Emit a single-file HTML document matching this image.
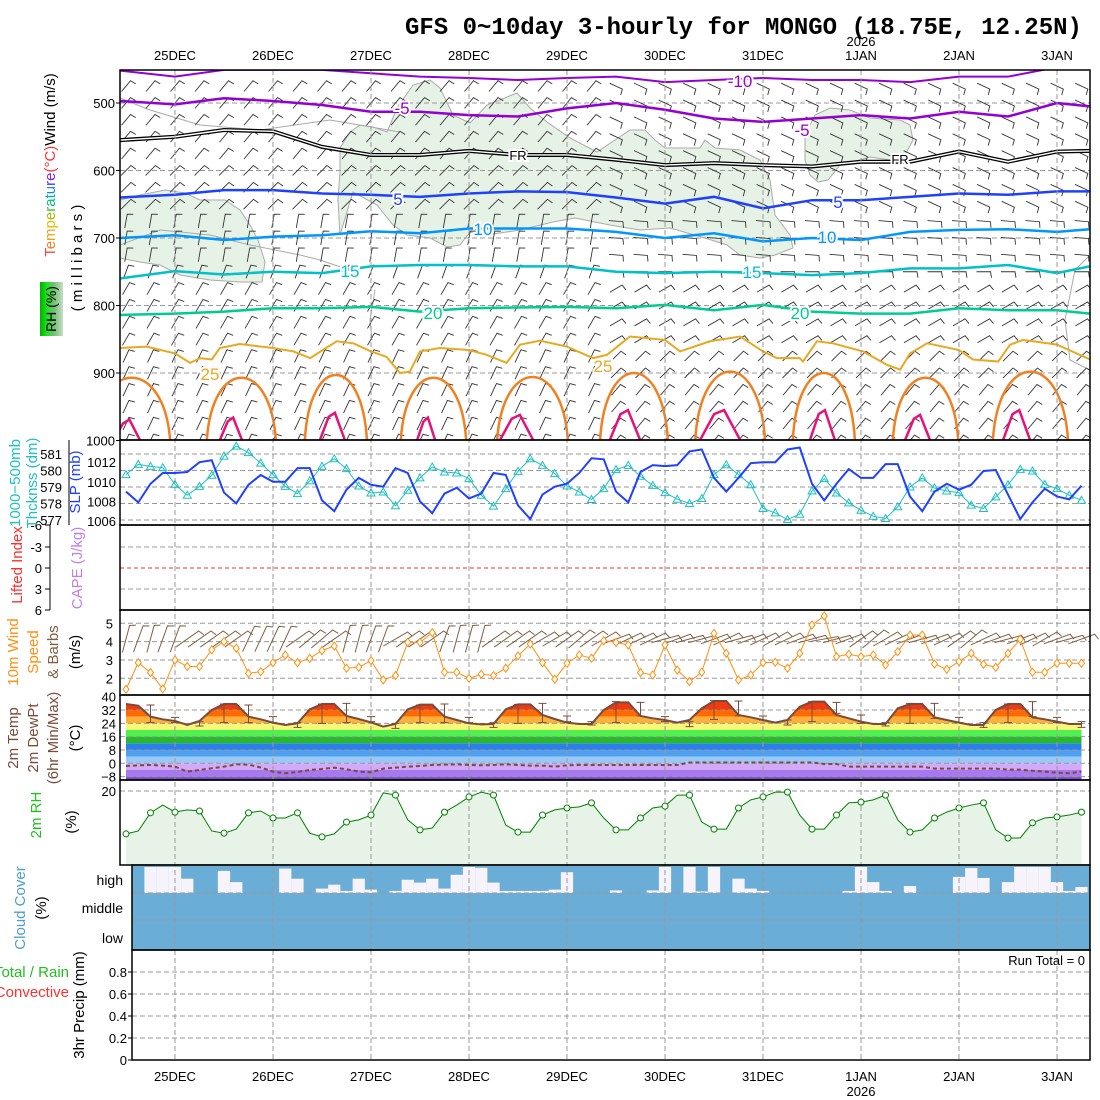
<!DOCTYPE html>
<html><head><meta charset="utf-8"><style>
html,body{margin:0;padding:0;background:#fff}
svg{display:block;font-family:"Liberation Sans",sans-serif}
</style></head><body>
<svg id="c" width="1100" height="1100" viewBox="0 0 1100 1100" xmlns="http://www.w3.org/2000/svg">
<defs>
<clipPath id="cp1"><rect x="120" y="70" width="970" height="370"/></clipPath>
<clipPath id="cpCloud"><rect x="132" y="866" width="958" height="84"/></clipPath>
<clipPath id="cpTemp"><path id="tclip" d=""/></clipPath>
<linearGradient id="rhg" x1="0" x2="1" y1="0" y2="0"><stop offset="0" stop-color="#00b000"/><stop offset="0.3" stop-color="#20e020"/><stop offset="0.6" stop-color="#70c070"/><stop offset="1" stop-color="#c8dcc8"/></linearGradient>
</defs>
<text x="405" y="34" font-family="Liberation Mono, monospace" font-weight="bold" font-size="24">GFS 0~10day 3-hourly for MONGO (18.75E, 12.25N)</text>
<g id="gBack"></g>
<g id="g1" clip-path="url(#cp1)"></g>
<g id="gMain"></g>
<g id="gLabels" font-size="14"></g>
</svg>
<script>
// ---------- DATA ----------
const dayLabels=["25DEC","26DEC","27DEC","28DEC","29DEC","30DEC","31DEC","1JAN","2JAN","3JAN"];
const dayHours=[12,36,60,84,108,132,156,180,204,228];
const slp=[1009.0,1007.9,1009.8,1010.9,1010.9,1011.0,1012.0,1012.2,1008.9,1007.8,1009.7,1010.7,1010.0,1010.0,1011.4,1011.4,1008.1,1007.0,1009.2,1010.4,1009.7,1009.5,1011.4,1010.9,1008.0,1006.8,1008.8,1009.4,1008.3,1008.8,1010.9,1010.7,1007.6,1006.2,1008.7,1009.5,1009.8,1010.9,1012.4,1012.3,1009.0,1007.9,1011.0,1011.7,1011.6,1011.7,1013.1,1013.3,1010.4,1009.0,1010.4,1011.9,1012.0,1012.0,1013.3,1013.5,1009.8,1008.1,1009.8,1011.3,1010.4,1010.4,1011.8,1011.8,1008.5,1007.0,1009.0,1009.8,1009.2,1009.7,1011.1,1011.2,1008.7,1006.2,1007.9,1009.3,1008.5,1008.2,1009.6];
const thick=[579.75,580.37,580.25,580.17,579.16,578.50,579.04,579.71,580.87,581.48,581.08,580.45,579.75,579.04,578.60,579.37,580.25,580.71,580.11,579.06,578.64,578.70,577.86,578.80,579.55,580.21,579.91,579.85,579.51,578.50,577.84,578.90,579.95,580.71,580.31,579.81,579.06,578.70,578.24,578.90,580.05,580.31,579.65,579.10,578.66,578.26,578.00,578.30,579.75,580.35,579.75,579.14,577.70,577.43,577.03,577.35,578.76,579.51,578.64,578.04,577.59,577.23,577.09,577.80,579.00,579.55,578.94,578.76,578.66,577.90,577.70,578.40,579.14,580.07,579.97,579.16,578.90,578.50,578.20];
const wspd=[1.40,2.85,2.31,1.42,3.0,2.64,2.64,3.55,4.0,3.64,2.27,2.36,2.85,3.27,2.85,3.09,3.51,3.76,2.55,2.6,2.96,1.91,2.15,3.96,3.96,4.49,2.33,2.33,2.0,2.22,2.15,2.55,3.22,3.87,2.85,1.95,2.82,3.27,3.09,4.05,3.96,3.82,2.31,2.18,3.82,2.45,1.82,2.33,4.45,3.36,1.91,2.18,2.85,2.87,2.55,3.36,4.91,5.4,3.18,3.31,3.18,3.27,2.73,3.45,4.36,4.36,2.78,2.49,2.91,3.36,2.76,2.6,3.36,4.13,2.33,2.33,2.82,2.82,2.82];
const wdirAng=[-75,-70,-75,-70,-70,-35,-35,-35,-35,-35,-65,-65,-65,-65,-35,-40,-40,-35,-75,-75,-70,-70,-30,-35,-35,-35,-70,-75,-75,-75,-35,-35,-35,-35,-30,-30,-35,-40,-35,-30,-20,-25,-25,-25,-15,-20,-15,-15,-20,-25,-15,-20,-25,-30,-25,-20,-15,-10,-15,-20,-35,-40,-30,-25,-20,-15,-20,-25,-35,-40,-25,-20,-15,-20,-25,-30,-20,-15,-20];
const temp2m=[35.6,34.6,28,26.4,25.4,23,25.4,32,35.6,35.6,28,26.4,24.4,23,24,32.4,35.6,35.6,28.4,26.6,24.6,22,23.6,32.4,35.2,35.2,28,26,24,23.4,23.6,32.4,35.4,35.4,29,26.6,24.4,23.6,23.6,32,36.6,36.6,28.4,27,26,24.4,26,33,37.4,37.4,29,27.6,26,24.4,26,34,37,37,29,27,25,23.6,23.6,33,35.6,35.6,27.6,26,24.4,23,23,32,35.6,35.6,27.6,26.4,25,23.6,23.6];
const dew2m=[-1.6,-1.2,-1,-1.4,-2,-5,-4,-3,-2,-0.6,-0.8,-2.5,-5,-6,-5.2,-4,-3.4,-2.6,-3.6,-5,-5.4,-3.2,-2.6,-2,-1.6,-1,-0.8,-0.6,-1,-1.2,-1,-0.6,-1,-1.4,-1.4,-2,-1.2,-1,-1,-1,-1,-1,-1,-1,-1,-1,0.5,0.5,0.5,0.5,0.5,0.5,0.5,0.5,0.5,0.5,0.5,-0.4,-0.4,-2,-2,-2,-2,-2,-2,-2,-3.2,-3.2,-3.2,-3.2,-3.2,-3.2,-3.8,-3.8,-4.5,-5,-5.6,-6,-5];
const tmaxIdx=[2,4,6,8,10,12,14,16,18,20,22,24,26,28,30,32,34,36,38,40,42,44,46,48,50,52,54,56,58,60,62,64,66,68,70,72,74,76,78];
const tmax6=[35,27.6,25,35.6,35,28,24.4,35.6,36,28,24,35,35.6,27.6,24.4,35.4,36,28.4,25,37,36.6,28,25,37.6,37.4,28.4,26,37,36.6,29,24.4,36,36,27.6,24.4,35.6,37,27.6,25];
const tmin6=[24.4,24.4,22.4,24.4,24.4,24.4,21.6,24,24.4,25,21,24.4,24.4,24.4,21.6,24,24.4,25,23,24.4,28.4,25,22,26.4,28.4,26,23,25,30,24,22.4,24,27,24.4,21.6,24.4,28,24.4,21.6];
const rh2m=[8.4,9.2,14.1,16.2,14.3,14.9,14.6,9.2,8.6,9.7,14.1,14.6,12.7,12.7,14.1,8.6,7.6,8.4,11.6,12.2,13.5,19.5,18.9,12.2,9.5,10,14.3,16.2,18.4,19.7,18.9,10.8,8.9,8.9,13.5,14.9,15.4,15.7,16.8,12.7,9.5,9.5,12.7,15.4,15.9,18.9,18.9,11.6,9.7,9.7,15.4,17.6,18.4,19.7,19.7,13.5,9.7,9.7,13.5,16.8,17,17.6,18.9,12.2,8.9,9.5,12.7,14.3,15.4,16.2,16.8,9.5,7.3,7.3,11.4,12.7,13,13.5,14.3];
const highCloud=[10,0,100,100,100,55,0,0,85,42,0,0,0,94,55,0,17,32,8,55,13,0,8,51,40,55,17,70,100,97,40,8,8,8,8,13,80,0,0,0,10,0,0,10,100,0,100,6,100,0,55,17,8,0,0,0,0,0,0,8,100,42,8,0,27,0,0,0,62,96,58,0,42,100,100,100,42,8,23];
const precipTicks=[0,0.2,0.4,0.6,0.8];
const isoHours=[-1.5,12,24,36,48,60,72,84,96,108,120,132,144,156,168,180,192,204,216,228,236];
const isoM10=[452,461,451,451,451,456,461,463,466,463,461,469,466,463,466,466,469,461,461,447,436];
const isoM5=[497,502,493,497,503,513,513,518,520,508,500,510,523,528,523,518,523,513,520,500,505];
const isoFR=[555,550,540,542,565,577,577,571,577,577,584,592,589,592,594,587,587,572,587,572,571];
const iso5=[640,636,629,629,634,636,639,634,631,632,640,649,639,656,644,644,639,634,636,631,631];
const iso10=[700,696,703,698,696,690,693,686,686,686,691,700,693,705,700,703,691,688,687,691,687];
const iso15=[760,749,754,750,752,742,740,740,742,742,750,752,750,752,755,752,745,745,740,752,742];
const iso20=[814,812,809,804,804,802,809,804,803,802,804,799,807,799,809,812,812,804,807,807,812];
const iso25Hours=[-1.5,5.1,12,15.7,18.1,21,23,27.9,36,41,45.1,51.6,55.7,60,63.8,67.1,69.5,72,76.9,84,88.3,93.2,96.5,101.4,108,114.4,117.8,123.4,132,135.7,143,150.4,156,159.4,165,165.8,169.2,173.1,180.5,186.4,189.6,192,196.2,204,207.4,213.6,216.5,219.7,228,236.1];
const iso25=[863,861,871,885,878,880,863,857,863,868,878,853,856,868,876,900,898,868,863,866,873,885,858,852,861,878,873,846,851,868,853,846,868,878,878,883,853,856,868,888,895,871,856,866,880,883,858,851,858,880];
const arch30Start=[-8,19.8,43.8,67.3,90.9,116.1,139.4,163.3,187.8,212.3];
const arch30End=[10.8,36.7,59,83.3,108.2,132.7,156.5,178.5,203.8,230.7];
const arch30Top=[907,907,903,907,906,900,898,900,907,898];
const arch35Start=[-3,23,47.5,71.3,91.6,118.5,140.6,167.5,190.8,214.8];
const arch35End=[3.4,28.4,53.6,75.7,99.7,125.9,150.4,173.6,196.9,221.4];
const arch35Top=[969,966,959,966,962,955,955,955,962,955];
const barbLevels=[475,500,525,550,575,600,625,650,675,700,725,750,775,800,825,850,875,900,925,950,975,1000];
const barbAngL=[-50,-50,-50,-50,-50,-45,-45,-45,-80,-80,-80,-70,-60,-60,-60,-60,-65,-65,-65,-65,-65,-65];
const barbAngR=[25,25,25,25,25,25,25,25,5,5,5,0,-30,-30,-30,-30,-45,-45,-50,-50,-50,-50];

// ---------- AXES ----------
const X=h=>126+h*12.25/3;
const P=mb=>103+(mb-500)*0.675;
const ySLP=v=>521-(v-1006)*9.8;
const yTh=v=>454+(581-v)*16.5;
const yW=v=>623.3+(5-v)*18.33;
const yT=v=>763.3-v*1.666;
const yRH=v=>865-v*3.7;
const yPr=v=>1060-v*110;
const NS="http://www.w3.org/2000/svg";
function mk(tag,attrs,parent){const e=document.createElementNS(NS,tag);for(const k in attrs)e.setAttribute(k,attrs[k]);parent.appendChild(e);return e;}
const gB=document.getElementById('gBack'),g1=document.getElementById('g1'),gM=document.getElementById('gMain'),gL=document.getElementById('gLabels');
function txt(s,x,y,attrs,parent,name){const t=mk('text',Object.assign({x:x,y:y},attrs),parent||gL);t.textContent=s;


return t;}
function line(x1,y1,x2,y2,attrs,parent){return mk('line',Object.assign({x1,y1,x2,y2},attrs),parent);}
const dash={stroke:'#999','stroke-dasharray':'5,3','stroke-width':1};

const panels=[[120,70,970,370],[120,440,970,85],[120,525,970,85],[120,610,970,85],[120,695,970,85],[120,780,970,85],[132,865,958,85],[132,950,958,110]];
let d='M'+X(0)+','+865;rh2m.forEach((v,i)=>d+=' L'+X(3*i)+','+yRH(v));d+=' L'+X(78*3)+',865 Z';
const rhArea=mk('path',{d:d,fill:'#e8f3e8'},gB);


const cg=mk('g',{'clip-path':'url(#cpCloud)'},gB);
const cbg=mk('rect',{x:132,y:866,width:958,height:84,fill:'#6aadd6'},cg);


highCloud.forEach((v,i)=>{if(v<=0)return;const hgt=v/100*26;const r=mk('rect',{x:X(3*i)-6.125,y:893-hgt,width:12.25,height:hgt,fill:'#f7f3fa'},cg);

});
d='M'+X(0)+',780';temp2m.forEach((v,i)=>d+=' L'+X(3*i)+','+yT(v));d+=' L'+X(78*3)+',780 Z';
document.getElementById('tclip').setAttribute('d',d);
const tb=mk('g',{'clip-path':'url(#cpTemp)'},gB);
const bands=[[40,32,'#f03a10'],[32,28,'#ff6a00'],[28,24,'#ffb038'],[24,20,'#f6f878'],[20,16,'#50f050'],[16,12,'#28b828'],[12,8,'#2a80e8'],[8,4,'#50a0f0'],[4,0,'#98c8f8'],[0,-4,'#d2aaf8'],[-4,-8,'#a878f0'],[-8,-11,'#7850d0']];
bands.forEach(b=>{const r=mk('rect',{x:120,y:yT(b[0]),width:970,height:yT(b[1])-yT(b[0]),fill:b[2]},tb);

});

// ---------- PANEL 1 ----------
function rhPoly(pts){return pts.map(p=>p[0]+','+p[1]).join(' ');}
const rhRegions=[
[[340,235],[338,200],[340,172],[340,148],[350,132],[360,125],[373,127],[387,132],[397,108],[413,85],[430,80],[440,88],[453,115],[470,123],[487,105],[517,93],[530,108],[547,122],[570,138],[597,152],[615,140],[630,130],[645,130],[655,140],[665,148],[700,148],[705,140],[715,148],[740,150],[760,160],[770,180],[775,215],[790,235],[793,248],[775,255],[760,258],[740,255],[727,245],[705,238],[670,228],[640,230],[610,225],[575,218],[553,222],[520,230],[487,235],[470,232],[460,245],[447,247],[430,238],[407,235],[393,225],[377,205],[353,192]],
[[120,200],[140,195],[165,190],[185,193],[200,200],[225,200],[240,210],[250,225],[258,240],[265,262],[262,282],[240,282],[210,280],[180,275],[160,265],[140,262],[120,258]],
[[805,135],[815,115],[830,108],[850,110],[870,118],[900,120],[910,125],[913,140],[905,155],[890,160],[870,157],[860,160],[840,165],[828,180],[818,182],[810,175],[805,160]]];
rhRegions.forEach(r=>{const p=mk('polygon',{points:rhPoly(r),fill:'#e6f2e6',stroke:'#aaa','stroke-width':1},g1);

});
const grayLines=[[[120,98],[150,110],[200,125],[260,130],[330,120],[400,132]],[[120,245],[160,230],[210,235],[250,245],[300,255],[320,260],[355,272]],[[375,290],[370,320],[372,340]],[[1090,255],[1075,270],[1065,320],[1070,360],[1090,370]]];
grayLines.forEach(l=>{const p=mk('polyline',{points:rhPoly(l),fill:'none',stroke:'#aaa','stroke-width':1},g1);

});
[500,600,700,800,900].forEach(mb=>line(120,P(mb),1090,P(mb),dash,g1));
barbLevels.forEach((mb,li)=>{for(let h=0;h<=234;h+=6){const x=X(h),y=P(mb);const a=(x<600?barbAngL[li]:barbAngR[li])*Math.PI/180;
const L=14,cx=Math.cos(a),sy=Math.sin(a);const x1=x-cx*L/2,y1=y-sy*L/2,x2=x+cx*L/2,y2=y+sy*L/2;
const b=mk('path',{d:'M'+x1+','+y1+' L'+x2+','+y2+' l'+(-sy*6+cx*1)+','+(cx*6+sy*1),stroke:'#333','stroke-width':0.9,fill:'none'},g1);

}});
function isoPath(hours,vals){let s='';vals.forEach((v,i)=>s+=(i?' L':'M')+X(hours[i])+','+P(v));return s;}
const isos=[[isoM10,'#9400d3',2,'isotherm-minus10'],[isoM5,'#9400d3',2.5,'isotherm-minus5'],[iso5,'#2040ff',2.5,'isotherm-5'],[iso10,'#0096ff',2.5,'isotherm-10'],[iso15,'#00c0c8',2.5,'isotherm-15'],[iso20,'#00cc90',2.5,'isotherm-20']];
isos.forEach(c=>{const p=mk('path',{d:isoPath(isoHours,c[0]),fill:'none',stroke:c[1],'stroke-width':c[2]},g1);

});
const fr1=mk('path',{d:isoPath(isoHours,isoFR),fill:'none',stroke:'#000','stroke-width':4},g1);


mk('path',{d:isoPath(isoHours,isoFR),fill:'none',stroke:'#fff','stroke-width':1.4},g1);
const i25=mk('path',{d:isoPath(iso25Hours,iso25),fill:'none',stroke:'#e8a820','stroke-width':2},g1);


arch30Start.forEach((s,i)=>{const xs=X(s),xe=X(arch30End[i]),w=xe-xs,yt=P(arch30Top[i]),cy=440+(yt-440)*4/3;
const p=mk('path',{d:'M'+xs+',440 C'+(xs+0.08*w)+','+cy+' '+(xe-0.08*w)+','+cy+' '+xe+',440',fill:'none',stroke:'#f08020','stroke-width':2.5},g1);

});
arch35Start.forEach((s,i)=>{const xs=X(s),xe=X(arch35End[i]),w=xe-xs,yt=P(arch35Top[i]);
const p=mk('path',{d:'M'+xs+',440 L'+(xs+0.35*w)+','+(yt+4)+' L'+(xs+0.6*w)+','+yt+' L'+xe+',440',fill:'none',stroke:'#e8107a','stroke-width':2.5},g1);

});
const cl=[['-10',740,87,'#9400d3'],['-5',402,114,'#9400d3'],['-5',802,136,'#9400d3'],['FR',518,160,'#000'],['FR',900,164,'#000'],['5',398,205,'#2040ff'],['5',838,208,'#2040ff'],['10',483,235,'#0096ff'],['10',827,243,'#0096ff'],['15',350,277,'#00c0c8'],['15',752,278,'#00c0c8'],['20',433,319,'#00cc90'],['20',800,319,'#00cc90'],['25',210,380,'#e8a820'],['25',603,372,'#e8a820']];
cl.forEach(c=>{txt(c[0],c[1],c[2],{fill:c[3],'font-size':c[0]==='FR'?13:17,'text-anchor':'middle',stroke:'#fff','stroke-width':4,'paint-order':'stroke'},g1,'contour-label');});

dayHours.forEach(h=>line(X(h),70,X(h),1060,dash,gM));
[577,578,579,580,581].forEach(v=>line(120,yTh(v),1090,yTh(v),dash,gM));
line(120,547,1090,547,dash,gM);line(120,589,1090,589,dash,gM);
line(120,568,1090,568,{stroke:'#f03030','stroke-dasharray':'4,3'},gM);
[2,3,4,5].forEach(v=>line(120,yW(v),1090,yW(v),dash,gM));
[32,24,16,8,0,-8].forEach(v=>line(120,yT(v),1090,yT(v),{stroke:'#999','stroke-dasharray':'5,3'},gM));
line(120,yRH(20),1090,yRH(20),dash,gM);
line(132,893,1090,893,dash,gM);line(132,920,1090,920,dash,gM);
precipTicks.slice(1).forEach(v=>line(132,yPr(v),1090,yPr(v),dash,gM));

function poly(vals,f){return vals.map((v,i)=>X(3*i)+','+f(v)).join(' ');}
const thl=mk('polyline',{points:poly(thick,yTh),fill:'none',stroke:'#20c0c0','stroke-width':1},gM);


thick.forEach((v,i)=>{const x=X(3*i),y=yTh(v);const t=mk('polygon',{points:x+','+(y-4)+' '+(x-4)+','+(y+3)+' '+(x+4)+','+(y+3),fill:'none',stroke:'#20c0c0'},gM);

});
const sl=mk('polyline',{points:poly(slp,ySLP),fill:'none',stroke:'#2040ff','stroke-width':2},gM);



wdirAng.forEach((a0,i)=>{const a=a0*Math.PI/180,x=X(3*i),y=639,L=28,c=Math.cos(a),s=Math.sin(a);
const b=mk('path',{d:'M'+(x-c*L/2)+','+(y-s*L/2)+' L'+(x+c*L/2)+','+(y+s*L/2)+' l'+(-s*6+c*2)+','+(c*6+s*2),stroke:'#806040','stroke-width':1,fill:'none'},gM);

});
const wl=mk('polyline',{points:poly(wspd,yW),fill:'none',stroke:'#ff9010','stroke-width':1},gM);


wspd.forEach((v,i)=>{const x=X(3*i),y=yW(v);const p=mk('polygon',{points:x+','+(y-4)+' '+(x+3)+','+y+' '+x+','+(y+4)+' '+(x-3)+','+y,fill:'#fff',stroke:'#ff9010'},gM);

});

const tl=mk('polyline',{points:poly(temp2m,yT),fill:'none',stroke:'#7a4a3a','stroke-width':2},gM);


const dl=mk('polyline',{points:poly(dew2m,yT),fill:'none',stroke:'#7a4a3a','stroke-width':2,'stroke-dasharray':'4,3'},gM);


tmaxIdx.forEach((ix,k)=>{const x=X(3*ix),y1=yT(tmax6[k]),y2=yT(tmin6[k]);
const p=mk('path',{d:'M'+x+','+y1+' V'+y2+' M'+(x-4)+','+y1+' h8 M'+(x-4)+','+y2+' h8',stroke:'#7a4a3a','stroke-width':1,fill:'none'},gM);

});

const rl=mk('polyline',{points:poly(rh2m,yRH),fill:'none',stroke:'#008000','stroke-width':1},gM);


rh2m.forEach((v,i)=>{if(i%2)return;const c=mk('circle',{cx:X(3*i),cy:yRH(v),r:3,fill:'#fff',stroke:'#008000'},gM);

});

panels.forEach(p=>{const r=mk('rect',{x:p[0],y:p[1],width:p[2],height:p[3],fill:'none',stroke:'#000','stroke-width':1.5},gM);

});
line(69,440,69,525,{stroke:'#000'},gM);line(50,525,50,610,{stroke:'#000'},gM);

[500,600,700,800,900,1000].forEach(mb=>{txt(String(mb),115,P(mb)+5,{'text-anchor':'end','font-size':13},gL,'pressure-tick');line(116,P(mb),120,P(mb),{stroke:'#000'},gM);});
[1006,1008,1010,1012].forEach(v=>txt(String(v),116,ySLP(v)+5,{'text-anchor':'end','font-size':13},gL,'slp-tick'));
[577,578,579,580,581].forEach(v=>txt(String(v),62,yTh(v)+5,{'text-anchor':'end','font-size':13},gL,'thickness-tick'));
[[-6,525],[-3,547],[0,568],[3,589],[6,610]].forEach(t=>{txt(String(t[0]),42,t[1]+5,{'text-anchor':'end','font-size':13},gL,'li-tick');line(45,t[1],50,t[1],{stroke:'#000'},gM);});
[2,3,4,5].forEach(v=>txt(String(v),113,yW(v)+5,{'text-anchor':'end','font-size':13},gL,'wind-tick'));
[40,32,24,16,8,0,-8].forEach(v=>txt(v<0?'−'+(-v):String(v),116,yT(v)+5,{'text-anchor':'end','font-size':13},gL,'temp-tick'));
txt('20',116,yRH(20)+5,{'text-anchor':'end','font-size':13},gL,'rh-tick');
[['high',880],['middle',908],['low',938]].forEach(t=>txt(t[0],123,t[1]+5,{'text-anchor':'end','font-size':14},gL,'cloud-level-label'));
precipTicks.forEach(v=>{txt(String(v),127,yPr(v)+5,{'text-anchor':'end','font-size':13},gL,'precip-tick');line(128,yPr(v),132,yPr(v),{stroke:'#000'},gM);});
txt('Run Total = 0',1085,965,{'text-anchor':'end','font-size':13},gL,'run-total');
dayLabels.forEach((s,i)=>{txt(s,X(dayHours[i]),60,{'text-anchor':'middle','font-size':13},gL,'top-date-label');txt(s,X(dayHours[i]),1081,{'text-anchor':'middle','font-size':13},gL,'bottom-date-label');});
txt('2026',X(180),46,{'text-anchor':'middle','font-size':13},gL,'top-year-label');
txt('2026',X(180),1096,{'text-anchor':'middle','font-size':13},gL,'bottom-year-label');

function rot(parts,x,y,size,name,ls){const t=mk('text',{x:x,y:y,transform:'rotate(-90 '+x+' '+y+')','text-anchor':'middle','font-size':size,'letter-spacing':ls||0},gL);


parts.forEach(p=>{const s=mk('tspan',{fill:p[1]},t);s.textContent=p[0];});return t;}
const rainbow=['#ff4040','#ff7a20','#f0a020','#e0c000','#a0c000','#40c040','#00c080','#00b0c0','#2080ff','#4040ff','#8020e0'];
const tparts=[];'Temperature'.split('').forEach((ch,i)=>tparts.push([ch,rainbow[i]]));tparts.push(['(°C)','#ff3030']);tparts.push(['Wind (m/s)','#000']);
rot(tparts,55,165,15,'upper-air-axis-title');
rot([['( m i l l i b a r s )','#000']],82,258,15,'pressure-axis-title');
const rb=mk('rect',{x:40,y:282,width:23,height:54,fill:'url(#rhg)'},gL);


rot([['RH (%)','#000']],56,309,14,'rh-legend-label');
rot([['1000−500mb','#20c0c0']],20,483,15,'thickness-title');
rot([['Thcknss (dm)','#20c0c0']],37,483,15,'thickness-title-2');
rot([['SLP (mb)','#2040ff']],80,482,15,'slp-title');
rot([['Lifted Index','#ff3030']],22,565,15,'lifted-index-title');
rot([['CAPE (J/kg)','#c080f0']],82,568,15,'cape-title');
rot([['10m Wind','#ff9010']],18,652,15,'wind-title');
rot([['Speed','#ff9010']],38,652,15,'speed-title');
rot([['& Barbs','#806040']],58,652,15,'barbs-title');
rot([['(m/s)','#000']],80,652,15,'wind-unit');
rot([['2m Temp','#7a4a3a']],18,738,15,'temp-title');
rot([['2m DewPt','#7a4a3a']],38,738,15,'dewpt-title');
rot([['(6hr Min/Max)','#7a4a3a']],58,738,15,'minmax-title');
rot([['(°C)','#000']],80,738,15,'temp-unit');
rot([['2m RH','#20c020']],41,815,15,'rh-title');
rot([['(%)','#000']],76,822,15,'rh-unit');
rot([['Cloud Cover','#4a9fd0']],25,908,15,'cloud-title');
rot([['(%)','#000']],46,908,15,'cloud-unit');
rot([['3hr Precip (mm)','#000']],84,1005,15,'precip-title');
txt('Total / Rain',69,977,{'text-anchor':'end','font-size':15,fill:'#20c020'},gL,'precip-total-legend');
txt('Convective',69,997,{'text-anchor':'end','font-size':15,fill:'#ff3030'},gL,'precip-convective-legend');
</script>
</body></html>
